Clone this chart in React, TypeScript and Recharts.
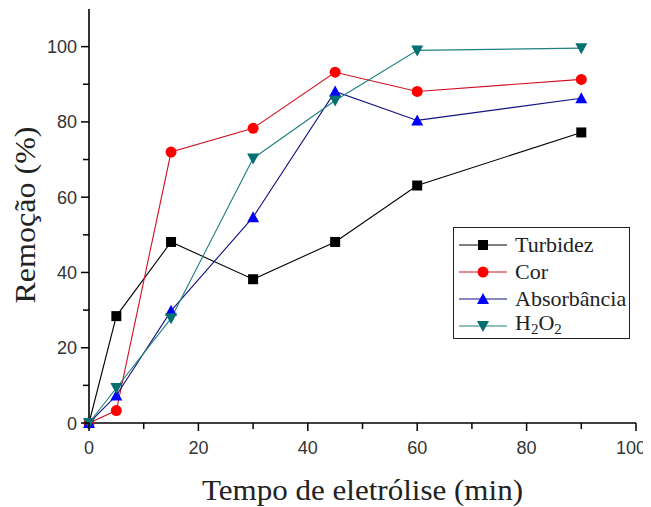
import { LineChart, Line, XAxis, YAxis } from "recharts";

const tempos = [0, 5, 15, 30, 45, 60, 90];
const turbidez = [0, 28.4, 48.1, 38.2, 48.1, 63.1, 77.2];
const cor = [0, 3.3, 72.0, 78.3, 93.2, 88.1, 91.3];
const absorbancia = [0, 7.3, 29.8, 54.7, 88.1, 80.4, 86.3];
const h2o2 = [0, 9.3, 27.8, 70.3, 85.7, 99.0, 99.6];

const xTicks = [0, 10, 20, 30, 40, 50, 60, 70, 80, 90, 100];
const yTicks = [0, 10, 20, 30, 40, 50, 60, 70, 80, 90, 100, 110];

const dados = tempos.map((t, i) => ({
  t,
  turbidez: turbidez[i],
  cor: cor[i],
  absorbancia: absorbancia[i],
  h2o2: h2o2[i],
}));

const serif = "'Liberation Serif', 'Times New Roman', serif";
const sans = "'Liberation Sans', Arial, sans-serif";

type Forma = "square" | "circle" | "up" | "down";

function Marcador({ cx, cy, forma, cor }: { cx: number; cy: number; forma: Forma; cor: string }) {
  if (cx == null || cy == null) return null;
  const s = 5;
  if (forma === "square") return <rect x={cx - s} y={cy - s} width={2 * s} height={2 * s} fill={cor} />;
  if (forma === "circle") return <circle cx={cx} cy={cy} r={s + 0.5} fill={cor} />;
  if (forma === "up")
    return <polygon points={`${cx},${cy - s - 1} ${cx - s - 1},${cy + s} ${cx + s + 1},${cy + s}`} fill={cor} />;
  return <polygon points={`${cx},${cy + s + 1} ${cx - s - 1},${cy - s} ${cx + s + 1},${cy - s}`} fill={cor} />;
}

function dot(forma: Forma, cor: string) {
  return (p: any) => <Marcador key={`${forma}-${p.index}`} cx={p.cx} cy={p.cy} forma={forma} cor={cor} />;
}

function TickX({ x, y, payload }: any) {
  const v = payload.value;
  const major = v % 20 === 0;
  // o "100" fica encostado na borda, puxa um pouco pra esquerda
  const dx = v === 100 ? -5 : 0;
  return (
    <g>
      <line x1={x} y1={y - 8} x2={x} y2={y - 8 + (major ? 8 : 6)} stroke="#000" strokeWidth={1.5} />
      {major && (
        <text x={x + dx} y={y + 23} textAnchor="middle" fontFamily={sans} fontSize={18} fill="#333">
          {v}
        </text>
      )}
    </g>
  );
}

function TickY({ x, y, payload }: any) {
  const v = payload.value;
  if (v > 100) return null;
  const major = v % 20 === 0;
  return (
    <g>
      <line x1={x + 8} y1={y} x2={x + 8 - (major ? 8 : 6)} y2={y} stroke="#000" strokeWidth={1.5} />
      {major && (
        <text x={x - 4} y={y + 6.5} textAnchor="end" fontFamily={sans} fontSize={18} fill="#333">
          {v}
        </text>
      )}
    </g>
  );
}

function RotuloY({ viewBox }: any) {
  const cx = viewBox.x + 27;
  const cy = viewBox.y + viewBox.height / 2 - 1;
  return (
    <text
      x={cx}
      y={cy}
      transform={`rotate(-90 ${cx} ${cy})`}
      textAnchor="middle"
      textLength={177}
      lengthAdjust="spacingAndGlyphs"
      fontFamily={serif}
      fontSize={30}
      fill="#222"
    >
      Remoção (%)
    </text>
  );
}

function RotuloX({ viewBox }: any) {
  return (
    <text
      x={viewBox.x + viewBox.width / 2}
      y={viewBox.y + 77}
      textAnchor="middle"
      textLength={321}
      lengthAdjust="spacingAndGlyphs"
      fontFamily={serif}
      fontSize={30}
      fill="#222"
    >
      Tempo de eletrólise (min)
    </text>
  );
}

const sub = { fontSize: 15, verticalAlign: -4 };

const itensLegenda: { nome: React.ReactNode; forma: Forma; cor: string; linha: string }[] = [
  { nome: "Turbidez", forma: "square", cor: "#000", linha: "#000" },
  { nome: "Cor", forma: "circle", cor: "#ff0000", linha: "#d01020" },
  { nome: "Absorbância", forma: "up", cor: "#0000ff", linha: "#101080" },
  {
    nome: (
      <>
        H<sub style={sub}>2</sub>O<sub style={sub}>2</sub>
      </>
    ),
    forma: "down",
    cor: "#007070",
    linha: "#208080",
  },
];

// legenda fora do Recharts: o <Legend> empurrava a área do gráfico
function Legenda() {
  return (
    <div
      style={{
        position: "absolute",
        left: 445,
        top: 219,
        width: 177,
        height: 112,
        border: "1.5px solid #222",
        background: "#fff",
        boxSizing: "border-box",
        padding: "3px 0 0 4px",
        fontFamily: serif,
        fontSize: 22,
        color: "#222",
        lineHeight: "27px",
      }}
    >
      {itensLegenda.map((it, i) => (
        <div key={i} style={{ display: "flex", alignItems: "center", height: 27, whiteSpace: "nowrap" }}>
          <svg width={50} height={16} style={{ marginRight: 7, flex: "none" }}>
            <line x1={1} y1={8} x2={49} y2={8} stroke={it.linha} strokeWidth={1.2} />
            <Marcador cx={25} cy={8} forma={it.forma} cor={it.cor} />
          </svg>
          <span>{it.nome}</span>
        </div>
      ))}
    </div>
  );
}

export default function App() {
  return (
    <div style={{ position: "relative", width: 643, height: 499 }}>
      <style>{`.recharts-surface{overflow:visible}`}</style>
      <LineChart width={643} height={499} data={dados} margin={{ top: 1, right: 15, bottom: 0, left: 0 }}>
        <XAxis
          dataKey="t"
          type="number"
          domain={[0, 100]}
          ticks={xTicks}
          interval={0}
          tick={<TickX />}
          tickLine={false}
          axisLine={{ stroke: "#000", strokeWidth: 1.6 }}
          height={84}
          label={<RotuloX />}
        />
        <XAxis xAxisId="topo" orientation="top" type="number" domain={[0, 100]} tick={false} tickLine={false} height={0} axisLine={{ stroke: "#000", strokeWidth: 1.6 }} />
        <YAxis
          type="number"
          domain={[0, 110]}
          ticks={yTicks}
          interval={0}
          tick={<TickY />}
          tickLine={false}
          axisLine={{ stroke: "#000", strokeWidth: 1.6 }}
          width={81}
          label={<RotuloY />}
        />
        <YAxis yAxisId="dir" orientation="right" domain={[0, 110]} tick={false} tickLine={false} width={0} axisLine={{ stroke: "#000", strokeWidth: 1.6 }} />
        <Line dataKey="turbidez" stroke="#000" strokeWidth={1.1} dot={dot("square", "#000")} isAnimationActive={false} />
        <Line dataKey="cor" stroke="#d01020" strokeWidth={1.1} dot={dot("circle", "#ff0000")} isAnimationActive={false} />
        <Line dataKey="absorbancia" stroke="#101080" strokeWidth={1.1} dot={dot("up", "#0000ff")} isAnimationActive={false} />
        <Line dataKey="h2o2" stroke="#208080" strokeWidth={1.1} dot={dot("down", "#007070")} isAnimationActive={false} />
      </LineChart>
      <Legenda />
    </div>
  );
}
